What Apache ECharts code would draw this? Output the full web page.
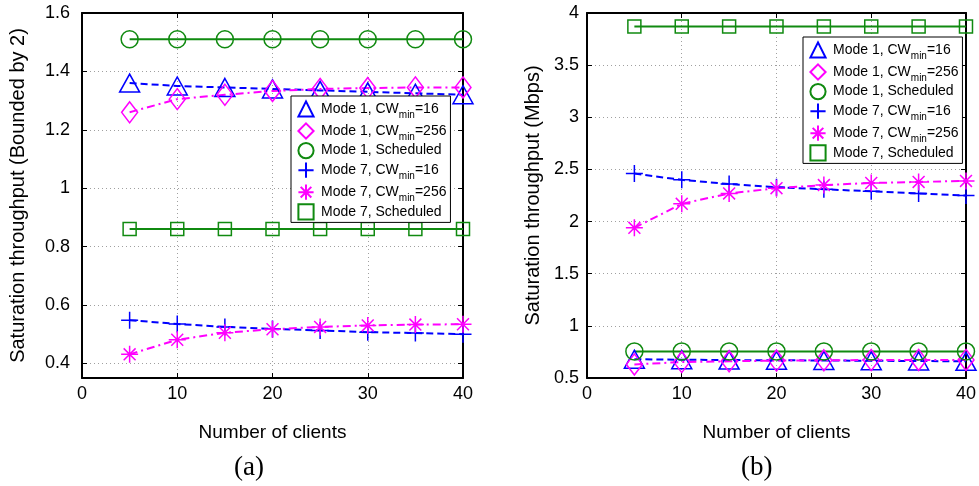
<!DOCTYPE html>
<html>
<head>
<meta charset="utf-8">
<script src="https://cdn.jsdelivr.net/npm/echarts@6/dist/echarts.min.js"></script>
<style>
  html, body { margin: 0; padding: 0; background: #fff; }
  #chart { width: 979px; height: 486px; }
</style>
</head>
<body>
<div id="chart"></div>
<script>
// number of clients (x values of every series)
const clients = [5, 10, 15, 20, 25, 30, 35, 40];

// (a) saturation throughput, bounded by 2
const m1cw16A  = [1.36, 1.35, 1.345, 1.34, 1.335, 1.33, 1.325, 1.32];
const m1cw256A = [1.26, 1.305, 1.32, 1.333, 1.34, 1.343, 1.345, 1.345];
const m1schedA = [1.51, 1.51, 1.51, 1.51, 1.51, 1.51, 1.51, 1.51];
const m7cw16A  = [0.548, 0.535, 0.525, 0.518, 0.513, 0.507, 0.504, 0.5];
const m7cw256A = [0.431, 0.481, 0.505, 0.517, 0.525, 0.53, 0.533, 0.534];
const m7schedA = [0.86, 0.86, 0.86, 0.86, 0.86, 0.86, 0.86, 0.86];

// (b) saturation throughput in Mbps
const m1cw16B  = [0.68, 0.675, 0.672, 0.67, 0.668, 0.665, 0.663, 0.66];
const m1cw256B = [0.63, 0.653, 0.66, 0.667, 0.67, 0.672, 0.673, 0.673];
const m1schedB = [0.755, 0.755, 0.755, 0.755, 0.755, 0.755, 0.755, 0.755];
const m7cw16B  = [2.46, 2.40, 2.36, 2.33, 2.31, 2.29, 2.27, 2.25];
const m7cw256B = [1.94, 2.17, 2.27, 2.32, 2.35, 2.37, 2.38, 2.39];
const m7schedB = [3.87, 3.87, 3.87, 3.87, 3.87, 3.87, 3.87, 3.87];

const names = [
  'Mode 1, CWmin=16',
  'Mode 1, CWmin=256',
  'Mode 1, Scheduled',
  'Mode 7, CWmin=16',
  'Mode 7, CWmin=256',
  'Mode 7, Scheduled'
];
const yTicksA = [0.4, 0.6, 0.8, 1, 1.2, 1.4, 1.6];

const BLUE = '#0000ff', MAGENTA = '#ff00ff', GREEN = '#108a10';
const PLUS = 'path://M0,-10L0,10M-10,0L10,0';
const STAR = 'path://M0,-10L0,10M-10,0L10,0M-7,-7L7,7M-7,7L7,-7';

// style of each curve, in legend order
const styles = [
  { color: BLUE, dash: [7, 4], symbol: 'triangle', size: [20, 18] },
  { color: MAGENTA, dash: [8, 4, 2, 4], symbol: 'diamond', size: [16, 21] },
  { color: GREEN, dash: 'solid', symbol: 'circle', size: 17 },
  { color: BLUE, dash: [7, 4], symbol: PLUS, size: 17 },
  { color: MAGENTA, dash: [8, 4, 2, 4], symbol: STAR, size: 17 },
  { color: GREEN, dash: 'solid', symbol: 'rect', size: 13 }
];

function mkSeries(idx, values, axisIdx) {
  const s = styles[idx];
  return {
    name: names[idx],
    type: 'line',
    xAxisIndex: axisIdx,
    yAxisIndex: axisIdx,
    data: clients.map((c, i) => [c, values[i]]),
    symbol: s.symbol,
    symbolSize: s.size,
    showAllSymbol: true,
    lineStyle: { color: s.color, width: 2, type: s.dash },
    itemStyle: { color: 'rgba(0,0,0,0)', borderColor: s.color, borderWidth: 1.5 },
    emphasis: { disabled: true },
    z: 3
  };
}

const font = 'Liberation Sans, Arial, sans-serif';

function xAxes(gi) {
  const base = {
    type: 'value', gridIndex: gi, min: 0, max: 40, interval: 10,
    axisLine: { onZero: false, lineStyle: { color: '#000', width: 2 } },
    axisTick: { inside: true, length: 5, lineStyle: { color: '#000', width: 1 } }
  };
  return [
    Object.assign({}, base, {
      position: 'bottom',
      name: 'Number of clients', nameLocation: 'middle', nameGap: 45,
      nameTextStyle: { fontFamily: font, fontSize: 19, color: '#000' },
      axisLabel: { fontFamily: font, fontSize: 18, color: '#000', margin: 7 },
      splitLine: { show: true, lineStyle: { color: '#a0a0a0', type: [1, 3], width: 1 } }
    }),
    Object.assign({}, base, {
      position: 'top',
      axisLabel: { show: false },
      splitLine: { show: false }
    })
  ];
}

function yAxes(gi, opts) {
  const base = Object.assign({
    type: 'value', gridIndex: gi,
    axisLine: { show: true, onZero: false, lineStyle: { color: '#000', width: 2 } }
  }, opts.range);
  return [
    Object.assign({}, base, {
      position: 'left',
      name: opts.name, nameLocation: 'middle', nameGap: opts.nameGap,
      nameTextStyle: { fontFamily: font, fontSize: 20, color: '#000' },
      axisLabel: Object.assign({ fontFamily: font, fontSize: 18, color: '#000', margin: opts.margin,
        formatter: v => String(v) }, opts.labelExtra),
      axisTick: Object.assign({ inside: true, length: 5, lineStyle: { color: '#000' } }, opts.labelExtra),
      splitLine: { show: true, lineStyle: { color: '#a0a0a0', type: [1, 3], width: 1 } }
    }),
    Object.assign({}, base, {
      position: 'right',
      axisLabel: { show: false },
      axisTick: Object.assign({ inside: true, length: 5, lineStyle: { color: '#000' } }, opts.labelExtra),
      splitLine: { show: false }
    })
  ];
}

function mkLegend(left, top) {
  return {
    orient: 'vertical', left: left, top: top,
    backgroundColor: '#fff', borderColor: '#000', borderWidth: 1,
    padding: [2, 4, 2, 4], itemGap: 0, itemWidth: 20, itemHeight: 19,
    lineStyle: { opacity: 0 },
    data: names,
    formatter: n => n.replace('CWmin', 'CW{sub|min}'),
    textStyle: {
      fontFamily: font, fontSize: 14, color: '#000', lineHeight: 16,
      rich: { sub: { fontFamily: font, fontSize: 10, lineHeight: 10, padding: [12, 0, 0, 0] } }
    },
    z: 10
  };
}

const chart = echarts.init(document.getElementById('chart'), null, { renderer: 'canvas' });

const seriesA = [m1cw16A, m1cw256A, m1schedA, m7cw16A, m7cw256A, m7schedA];
const seriesB = [m1cw16B, m1cw256B, m1schedB, m7cw16B, m7cw256B, m7schedB];

chart.setOption({
  animation: false,
  backgroundColor: '#fff',
  grid: [
    { left: 82, top: 13, width: 381, height: 365 },
    { left: 587, top: 13, width: 383, height: 365 }
  ],
  xAxis: [].concat(xAxes(0), xAxes(1)),
  yAxis: [].concat(
    yAxes(0, {
      range: { min: 0.35, max: 1.6 },
      name: 'Saturation throughput (Bounded by 2)', nameGap: 54, margin: 12,
      labelExtra: { customValues: yTicksA }
    }),
    yAxes(1, {
      range: { min: 0.5, max: 4, interval: 0.5 },
      name: 'Saturation throughput (Mbps)', nameGap: 44, margin: 8,
      labelExtra: {}
    })
  ),
  legend: [mkLegend(291, 96), mkLegend(803, 37)],
  series: [].concat(
    seriesA.map((v, i) => mkSeries(i, v, 0)),
    seriesB.map((v, i) => mkSeries(i, v, 2))
  ),
  graphic: [
    { type: 'text', left: 234, top: 454, style: { text: '(a)', font: '27px Liberation Serif, serif', fill: '#000' } },
    { type: 'text', left: 741, top: 454, style: { text: '(b)', font: '27px Liberation Serif, serif', fill: '#000' } }
  ]
});
</script>
</body>
</html>
